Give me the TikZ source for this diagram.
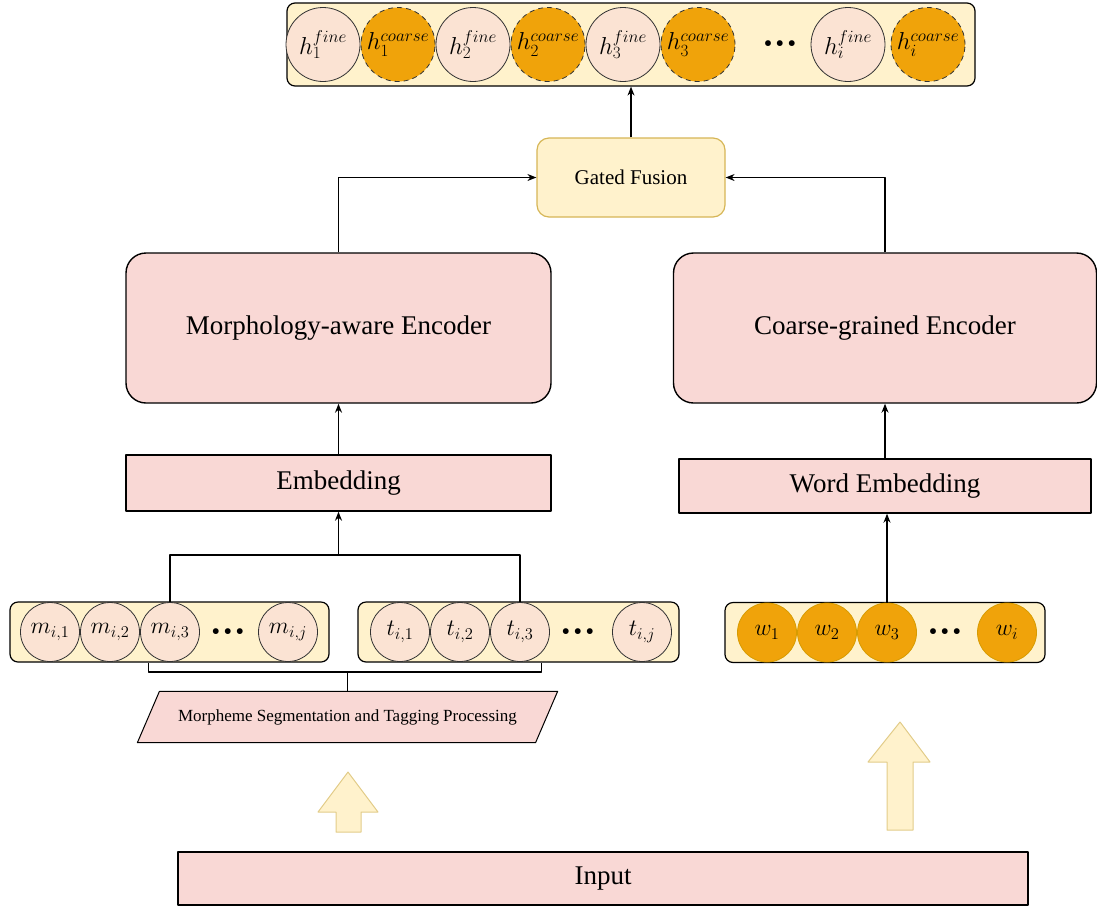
\documentclass[tikz,border=0pt]{standalone}
\usepackage{fix-cm}
\usepackage[no-math]{fontspec}
\setmainfont{Liberation Serif}
\usetikzlibrary{arrows.meta}
\definecolor{barfill}{HTML}{FFF2CC}
\definecolor{peach}{HTML}{FBE3D3}
\definecolor{amber}{HTML}{F0A30A}
\definecolor{amberline}{HTML}{D79B00}
\definecolor{encfill}{HTML}{F9D8D5}
\definecolor{gateline}{HTML}{D6B656}
\begin{document}
\begin{tikzpicture}[x = 1pt, y = -1pt, line join = round, line width = 1.2pt,
		>={Stealth[length=9pt,width=7pt]},
		bar/.style = {draw, rounded corners = 8, fill = barfill, minimum height = 60, inner sep = 0},
		fine/.style = {circle, draw = black!80, line width = 0.8pt, fill = peach, minimum size = 74, inner sep = 0, font = \fontsize{24.5}{28}\selectfont},
		coarse/.style = {fine, fill = amber, dash pattern = on 5pt off 4pt},
		morph/.style = {fine, minimum size = 59, font = \fontsize{23.5}{27}\selectfont},
		word/.style = {morph, fill = amber, draw = amberline},
		dots/.style = {inner sep = 0, yshift = -4pt, font = \fontsize{36}{40}\selectfont\bfseries},
		enc/.style = {draw, fill = encfill, line width = 1.4pt, font = \fontsize{27}{32}\selectfont},
		blockarrow/.style = {draw = gateline!70, fill = barfill, line width = 1pt}]
	\useasboundingbox (0,0) rectangle (1097,906);
	\node[bar, minimum width = 688, minimum height = 83] (hbar) at (631,44.5) {};
	\foreach \k in {1,2,3}{
		\node[fine] (hf\k) at (173+150*\k,44.5) {$h_{\k}^{fine}$};
		\node[coarse] (hc\k) at (248+150*\k,44.5) {$h_{\k}^{coarse}$};
	}
	\node[dots] (hdots) at (780,44.5) {···};
	\node[fine] (hfi) at (848,44.5) {$h_{i}^{fine}$};
	\node[coarse] (hci) at (928,44.5) {$h_{i}^{coarse}$};
	\node[draw = gateline, fill = barfill, rounded corners = 12, minimum width = 188, minimum height = 79, font = \fontsize{21}{25}\selectfont] (gate) at (631,177.5) {Gated Fusion};
	\node[enc, rounded corners = 20, minimum width = 425, minimum height = 150] (menc) at (338.5,328) {Morphology-aware Encoder};
	\node[enc, rounded corners = 20, minimum width = 423, minimum height = 150] (cenc) at (885,328) {Coarse-grained Encoder};
	\node[enc, minimum width = 425, minimum height = 56] (emb) at (338.5,483) {Embedding};
	\node[enc, minimum width = 412, minimum height = 54] (wemb) at (885,486) {Word Embedding};
	\node[bar, minimum width = 319] (mbar) at (169.5,632) {};
	\node[bar, minimum width = 321] (tbar) at (518.5,632) {};
	\node[bar, minimum width = 320] (wbar) at (885,632.5) {};
	\foreach \k in {1,2,3}{
		\node[morph] (m\k) at (-10+60*\k,632) {$m_{i,\k}$};
		\node[morph] (t\k) at (340+60*\k,632) {$t_{i,\k}$};
		\node[word] (w\k) at (707+60*\k,632.5) {$w_{\k}$};
	}
	\node[dots] (mdots) at (228,632) {···};
	\node[morph] (mj) at (288,632) {$m_{i,j}$};
	\node[dots] (tdots) at (578,632) {···};
	\node[morph] (tj) at (642,632) {$t_{i,j}$};
	\node[dots] (wdots) at (945,632.5) {···};
	\node[word] (wi) at (1007,632.5) {$w_{i}$};
	\node[minimum width = 397, minimum height = 50, inner sep = 0] (seg) at (347.5,717) {};
	\draw[fill = encfill, line width = 1pt] ([xshift=-11]seg.south west) -- ([xshift=11]seg.north west) -- ([xshift=11]seg.north east) -- ([xshift=-11]seg.south east) -- cycle;
	\node[font = \fontsize{17}{20}\selectfont] (segtext) at (seg) {Morpheme Segmentation and Tagging Processing};
	\node[enc, minimum width = 850, minimum height = 53] (input) at (603,878.5) {Input};
	\draw[->] (menc.north) |- (gate.west);
	\draw[->] (cenc.north) |- (gate.east);
	\draw[->] (gate.north) -- (hbar.south);
	\draw[->] (emb.north) -- (menc.south);
	\draw[->] (wemb.north) -- (cenc.south);
	\draw[->] (w3.north) -- (w3.north |- wemb.south);
	\coordinate (join) at (338.5,555);
	\draw (m3.north) |- (join) -| (t3.north);
	\draw[->] (join) -- (emb.south);
	\coordinate (split) at (347.5,672);
	\draw (m3.south west |- mbar.south) |- (split) -| (t3.south east |- tbar.south);
	\draw (split) -- (seg.north);
	\draw[blockarrow] (348,772) -- (378,812) -- (361,812) -- (361,832) -- (336,832) -- (336,812) -- (318,812) -- cycle;
	\draw[blockarrow] (900,722) -- (930,762) -- (913,762) -- (913,830) -- (887,830) -- (887,762) -- (868,762) -- cycle;
\end{tikzpicture}
\end{document}
